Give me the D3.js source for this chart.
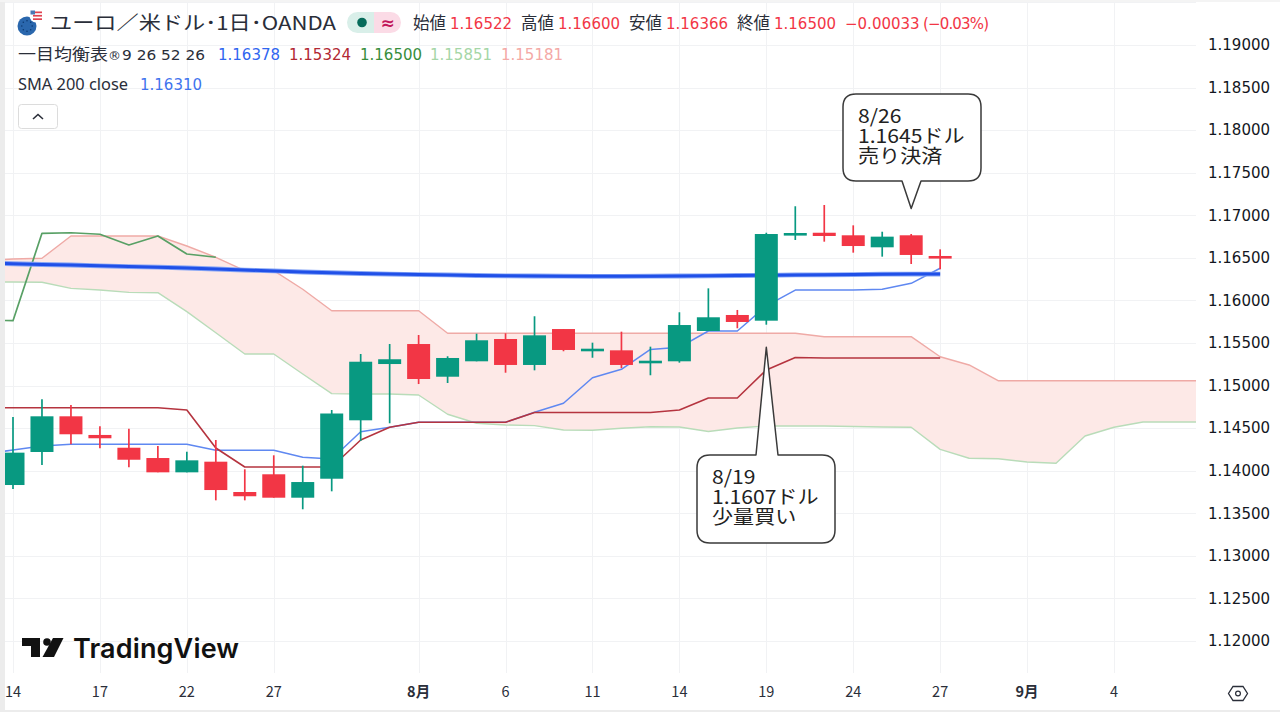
<!DOCTYPE html>
<html>
<head>
<meta charset="utf-8">
<script src="https://cdn.jsdelivr.net/npm/d3@7"></script>
<style>
    html, body { margin: 0; padding: 0; background: #fff; }
    svg { display: block; }
    text { font-family: "DejaVu Sans", "Noto Sans CJK JP", sans-serif; }
    .jp { font-family: "Noto Sans CJK JP", sans-serif; }
    .grid line { stroke: #f1f2f4; stroke-width: 1; }
</style>
</head>
<body>
<div id="chart"></div>
<script>
/*************************************** DATA *********************************************/

var opens = [1.13832, 1.1422, 1.14639, 1.1442, 1.1427, 1.14149, 1.13981, 1.14106, 1.1375, 1.13958, 1.13683,
    1.13906, 1.14592, 1.15253, 1.15488, 1.15104, 1.15285, 1.15547, 1.15242, 1.15664, 1.15418, 1.15414,
    1.15273, 1.15285, 1.15641, 1.15829, 1.15762, 1.16772, 1.16795, 1.16765, 1.16624, 1.16765, 1.16522];
var highs = [1.14631, 1.14839, 1.14772, 1.14522, 1.14494, 1.1429, 1.14223, 1.14361, 1.14017, 1.14181, 1.14059,
    1.14713, 1.15371, 1.15488, 1.15594, 1.15344, 1.15609, 1.15614, 1.15814, 1.15664, 1.15504, 1.15633,
    1.15457, 1.15861, 1.16142, 1.15888, 1.16795, 1.17106, 1.17121, 1.16882, 1.16807, 1.1678, 1.166];
var lows = [1.13785, 1.14067, 1.1431, 1.14263, 1.1404, 1.13981, 1.13981, 1.13652, 1.13652, 1.13683, 1.13547,
    1.13758, 1.1435, 1.14557, 1.15018, 1.1503, 1.15285, 1.15151, 1.15179, 1.15403, 1.15327, 1.15206,
    1.15121, 1.15269, 1.15641, 1.15673, 1.15715, 1.1671, 1.1669, 1.16561, 1.16514, 1.16428, 1.16366];
var closes = [1.14212, 1.14639, 1.14428, 1.14381, 1.14129, 1.13981, 1.14122, 1.13773, 1.137, 1.13683, 1.13867,
    1.14672, 1.1528, 1.15309, 1.15077, 1.15324, 1.15532, 1.15242, 1.1559, 1.15418, 1.15433, 1.15242,
    1.15292, 1.15711, 1.15802, 1.15747, 1.1678, 1.16792, 1.16757, 1.16639, 1.16749, 1.16534, 1.165];

// these start one bar before the first candle, the chart cuts them off at the left edge
var tenkan = [1.14196, 1.14243, 1.1429, 1.1431, 1.1431, 1.1431, 1.1431, 1.1431, 1.1424, 1.1424, 1.1424, 1.14158,
    1.14138, 1.14458, 1.1451, 1.14569, 1.14569, 1.14569, 1.14569, 1.14686, 1.14792, 1.15092, 1.15191,
    1.15424, 1.15449, 1.15641, 1.15641, 1.15935, 1.16122, 1.16122, 1.16122, 1.16131, 1.16201, 1.16378];
var kijun = [1.1474, 1.1474, 1.1474, 1.1474, 1.1474, 1.1474, 1.1474, 1.14713, 1.14267, 1.14044, 1.14044, 1.14044,
    1.14044, 1.14361, 1.1451, 1.14569, 1.14569, 1.14569, 1.14569, 1.14684, 1.14684, 1.14684, 1.14684,
    1.14684, 1.14713, 1.14854, 1.14854, 1.15183, 1.1533, 1.15324, 1.15324, 1.15324, 1.15324, 1.15324];
var chikou = [1.1577, 1.15762, 1.16788, 1.16795, 1.16777, 1.16651, 1.16757, 1.16545, 1.16507];
var spanUpper = [1.16463, 1.16487, 1.16495, 1.16757, 1.16757, 1.16757, 1.16757, 1.16639, 1.16507, 1.16349, 1.16349,
    1.16131, 1.15879, 1.15879, 1.15879, 1.15879, 1.15614, 1.15614, 1.15614, 1.15614, 1.15614, 1.15614,
    1.15614, 1.15614, 1.15614, 1.15614, 1.15614, 1.15614, 1.15614, 1.15574, 1.15574, 1.15574, 1.15574,
    1.15339, 1.15242, 1.15057, 1.15057, 1.15057, 1.15057, 1.15057, 1.15057, 1.15057, 1.15057];
var spanLower = [1.16216, 1.16216, 1.16213, 1.16142, 1.16122, 1.16095, 1.16091, 1.15868, 1.15621, 1.15371, 1.15371,
    1.15136, 1.14905, 1.14901, 1.14901, 1.14889, 1.14663, 1.14557, 1.14537, 1.14529, 1.14478, 1.14475,
    1.14498, 1.14517, 1.14513, 1.14461, 1.14502, 1.14525, 1.14525, 1.14525, 1.14519, 1.14513, 1.1451,
    1.14251, 1.14146, 1.14141, 1.14102, 1.14087, 1.14408, 1.1451, 1.14572, 1.14572, 1.14572];
var sma200 = [1.1644, 1.16431, 1.16422, 1.16416, 1.16407, 1.16398, 1.1639, 1.16381, 1.16369, 1.16357, 1.16346, 1.16334,
    1.16325, 1.16316, 1.1631, 1.16304, 1.16299, 1.16293, 1.16289, 1.16287, 1.16285, 1.16283, 1.16283,
    1.16285, 1.16287, 1.16289, 1.16293, 1.16295, 1.16299, 1.16301, 1.16304, 1.16308, 1.1631, 1.1631];

var yTicks = [1.195, 1.19, 1.185, 1.18, 1.175, 1.17, 1.165, 1.16, 1.155, 1.15, 1.145, 1.14, 1.135, 1.13, 1.125, 1.12];
var xTickBars = [0, 3, 6, 9, 14, 17, 20, 23, 26, 29, 32, 35, 38];
var xTickLabels = ["14", "17", "22", "27", "8月", "6", "11", "14", "19", "24", "27", "9月", "4"];

var titleText = "ユーロ／米ドル･1日･OANDA";
var ohlcLabels = ["始値", "高値", "安値", "終値"];
var ohlcValues = ["1.16522", "1.16600", "1.16366", "1.16500"];
var changeText = "−0.00033";
var changePctText = "(−0.03%)";
var ichimokuValues = ["1.16378", "1.15324", "1.16500", "1.15851", "1.15181"];
var sellNote = ["8/26", "1.1645ドル", "売り決済"];
var buyNote = ["8/19", "1.1607ドル", "少量買い"];

/*************************************** SCALES *********************************************/

var width = 1280,
    height = 720,
    plotLeft = 5,
    plotRight = 1196,
    plotBottom = 673;

var x = d3.scaleLinear().domain([0, 38]).range([13, 1114]);
var y = d3.scaleLinear().domain([1.12, 1.19]).range([641, 45]);

var candleWidth = 23;
var upColor = "#089981",
    downColor = "#f23645";

var svg = d3.select("#chart").append("svg")
    .attr("width", width)
    .attr("height", height);

svg.append("rect").attr("width", width).attr("height", height).attr("fill", "#fff");

// screenshot frame on the left and the bottom
svg.append("rect").attr("x", 0).attr("y", 0).attr("width", 5).attr("height", 711).attr("fill", "#ececec");
svg.append("rect").attr("x", 0).attr("y", 0).attr("width", width).attr("height", 2).attr("fill", "#f4f4f4");
svg.append("rect").attr("x", 0).attr("y", 710).attr("width", width).attr("height", 2).attr("fill", "#ececec");

svg.append("clipPath").attr("id", "plot-clip")
    .append("rect")
    .attr("x", plotLeft)
    .attr("y", 0)
    .attr("width", plotRight - plotLeft)
    .attr("height", plotBottom);

/*************************************** GRID + AXES *********************************************/

var grid = svg.append("g").attr("class", "grid");

grid.selectAll(".h")
    .data(yTicks)
    .enter().append("line")
    .attr("x1", plotLeft)
    .attr("x2", plotRight)
    .attr("y1", function(d) { return Math.round(y(d)) + 0.5; })
    .attr("y2", function(d) { return Math.round(y(d)) + 0.5; });

grid.selectAll(".v")
    .data(xTickBars)
    .enter().append("line")
    .attr("y1", 2)
    .attr("y2", plotBottom)
    .attr("x1", function(d) { return Math.round(x(d)) + 0.5; })
    .attr("x2", function(d) { return Math.round(x(d)) + 0.5; });

var yAxis = d3.axisRight(y)
    .tickValues(yTicks.slice(1))
    .tickSize(0)
    .tickPadding(0)
    .tickFormat(d3.format(".5f"));

svg.append("g")
    .attr("transform", "translate(1208,0)")
    .call(yAxis)
    .call(function(g) { g.select(".domain").remove(); })
    .selectAll("text")
    .style("font-family", "'DejaVu Sans', sans-serif")
    .style("font-size", "15px")
    .attr("fill", "#131722");

svg.append("g").selectAll("text")
    .data(xTickBars)
    .enter().append("text")
    .attr("x", function(d) { return x(d); })
    .attr("y", 697)
    .attr("text-anchor", "middle")
    .attr("class", "jp")
    .attr("font-size", 14.5)
    .attr("font-weight", function(d, i) { return xTickLabels[i].indexOf("月") > 0 ? 700 : 400; })
    .attr("fill", "#2a2e39")
    .text(function(d, i) { return xTickLabels[i]; });

// settings hexagon in the corner
svg.append("path")
    .attr("d", "M1233 686.5h10l4.5 7-4.5 7h-10l-4.5-7z")
    .attr("fill", "none")
    .attr("stroke", "#2a2e39")
    .attr("stroke-width", 1.3);
svg.append("circle").attr("cx", 1238).attr("cy", 693.5).attr("r", 2.4)
    .attr("fill", "none").attr("stroke", "#2a2e39").attr("stroke-width", 1.2);

/*************************************** ICHIMOKU + SMA *********************************************/

var plot = svg.append("g").attr("clip-path", "url(#plot-clip)");

// line arrays have one extra bar in front, so index i sits on bar i - 1
var line = d3.line()
    .x(function(d, i) { return x(i - 1); })
    .y(function(d) { return y(d); });

var cloud = d3.area()
    .x(function(d, i) { return x(i - 1); })
    .y0(function(d, i) { return y(spanLower[i]); })
    .y1(function(d) { return y(d); });

plot.append("path").datum(spanUpper).attr("d", cloud).attr("fill", "#fde9e7");

function drawLine(data, color, lineWidth) {
    plot.append("path")
        .datum(data)
        .attr("d", line)
        .attr("fill", "none")
        .attr("stroke", color)
        .attr("stroke-width", lineWidth)
        .attr("stroke-linejoin", "round");
}

drawLine(spanUpper, "#efaaa6", 1.4);
drawLine(spanLower, "#b9dcb9", 1.4);
drawLine(tenkan, "#5f88f1", 1.5);
drawLine(kijun, "#b5343f", 1.6);
drawLine(chikou, "#58a065", 1.7);
drawLine(sma200, "#86a5f5", 4.8); // soft edge from the blurry screenshot
drawLine(sma200, "#2050e8", 3);

/*************************************** CANDLES *********************************************/

var candles = plot.append("g").selectAll("g")
    .data(opens)
    .enter().append("g")
    .attr("fill", function(d, i) { return closes[i] >= d ? upColor : downColor; })
    .attr("stroke", function(d, i) { return closes[i] >= d ? upColor : downColor; });

candles.append("line")
    .attr("x1", function(d, i) { return x(i); })
    .attr("x2", function(d, i) { return x(i); })
    .attr("y1", function(d, i) { return y(highs[i]); })
    .attr("y2", function(d, i) { return y(lows[i]); })
    .attr("stroke-width", 1.7);

candles.append("rect")
    .attr("stroke", "none")
    .attr("x", function(d, i) { return x(i) - candleWidth / 2; })
    .attr("width", candleWidth)
    .attr("y", function(d, i) { return y(Math.max(d, closes[i])); })
    .attr("height", function(d, i) { return Math.max(2.6, Math.abs(y(d) - y(closes[i]))); });

/*************************************** CALLOUTS *********************************************/

function drawNote(left, top, w, h, tipX, tipY, baseX0, baseX1, lines) {
    var r = 13,
        right = left + w,
        bottom = top + h,
        path = d3.path();
    path.moveTo(left + r, top);
    if (tipY < top) {
        path.lineTo(baseX0, top);
        path.lineTo(tipX, tipY);
        path.lineTo(baseX1, top);
    }
    path.lineTo(right - r, top);
    path.quadraticCurveTo(right, top, right, top + r);
    path.lineTo(right, bottom - r);
    path.quadraticCurveTo(right, bottom, right - r, bottom);
    if (tipY > bottom) {
        path.lineTo(baseX1, bottom);
        path.lineTo(tipX, tipY);
        path.lineTo(baseX0, bottom);
    }
    path.lineTo(left + r, bottom);
    path.quadraticCurveTo(left, bottom, left, bottom - r);
    path.lineTo(left, top + r);
    path.quadraticCurveTo(left, top, left + r, top);
    path.closePath();

    svg.append("path")
        .attr("d", path.toString())
        .attr("fill", "#fff")
        .attr("stroke", "#3a3a3a")
        .attr("stroke-width", 1.5)
        .attr("stroke-linejoin", "round");

    // the notes are a little wider than the font, same as in the screenshot
    svg.append("g").selectAll("text")
        .data(lines)
        .enter().append("text")
        .attr("class", "jp")
        .attr("transform", function(d, i) {
            return "translate(" + (left + 15) + "," + (top + 29 + i * 20) + ") scale(1.11,1)";
        })
        .attr("font-size", 19)
        .attr("fill", "#222")
        .text(function(d) { return d; });
}

drawNote(843, 94, 138, 87, x(31), y(1.1708), 902, 921, sellNote);
drawNote(697, 455, 138, 88, x(26), y(1.1545), 756, 778, buyNote);

/*************************************** HEADER *********************************************/

var header = svg.append("g");

// pair icon, euro disc with the small us disc on top
header.append("circle").attr("cx", 27).attr("cy", 26).attr("r", 9.5).attr("fill", "#2a67ad");
header.selectAll(".star")
    .data(d3.range(8))
    .enter().append("circle")
    .attr("cx", function(d) { return 27 + 5.2 * Math.cos(d * Math.PI / 4); })
    .attr("cy", function(d) { return 26 + 5.2 * Math.sin(d * Math.PI / 4); })
    .attr("r", 0.8)
    .attr("fill", "#0d3a73");
header.append("circle").attr("cx", 36).attr("cy", 16).attr("r", 6.5).attr("fill", "#fff");
header.selectAll(".stripe")
    .data([0, 1, 2])
    .enter().append("rect")
    .attr("x", 33)
    .attr("y", function(d) { return 11.5 + d * 3.4; })
    .attr("width", 9)
    .attr("height", 1.7)
    .attr("fill", "#e0424f");
header.append("rect").attr("x", 30.5).attr("y", 10.5).attr("width", 4.5).attr("height", 4).attr("fill", "#4a79b5");

header.append("text")
    .attr("class", "jp")
    .attr("x", 50)
    .attr("y", 30)
    .attr("font-size", 19)
    .attr("fill", "#2a2e39")
    .attr("textLength", 286)
    .attr("lengthAdjust", "spacingAndGlyphs")
    .text(titleText);

// market status pill
var pillClip = header.append("clipPath").attr("id", "pill-clip");
pillClip.append("rect").attr("x", 347).attr("y", 12).attr("width", 54).attr("height", 21).attr("rx", 10.5);
var pill = header.append("g").attr("clip-path", "url(#pill-clip)");
pill.append("rect").attr("x", 347).attr("y", 12).attr("width", 27).attr("height", 21).attr("fill", "#d9efe9");
pill.append("rect").attr("x", 374).attr("y", 12).attr("width", 27).attr("height", 21).attr("fill", "#fbdbe6");
header.append("circle").attr("cx", 362).attr("cy", 22.5).attr("r", 4.8).attr("fill", "#066b5a");
header.append("text")
    .attr("x", 387.5)
    .attr("y", 28.5)
    .attr("text-anchor", "middle")
    .attr("font-size", 17)
    .attr("font-weight", 700)
    .attr("fill", "#c2185b")
    .text("≈");

var ohlcLabelX = [413, 521, 629, 737],
    ohlcValueX = [450, 558, 666, 774];

header.selectAll(".ohlc-label")
    .data(ohlcLabels)
    .enter().append("text")
    .attr("class", "jp")
    .attr("x", function(d, i) { return ohlcLabelX[i]; })
    .attr("y", 29)
    .attr("font-size", 16.5)
    .attr("fill", "#2a2e39")
    .text(function(d) { return d; });

header.selectAll(".ohlc-value")
    .data(ohlcValues)
    .enter().append("text")
    .attr("x", function(d, i) { return ohlcValueX[i]; })
    .attr("y", 28.5)
    .attr("font-size", 15)
    .attr("fill", downColor)
    .text(function(d) { return d; });

header.append("text").attr("x", 845).attr("y", 28.5).attr("font-size", 15)
    .attr("fill", downColor).text(changeText);
header.append("text").attr("x", 923).attr("y", 28.5).attr("font-size", 15)
    .attr("fill", downColor).attr("textLength", 66).text(changePctText);

header.append("text")
    .attr("class", "jp")
    .attr("x", 18)
    .attr("y", 60)
    .attr("font-size", 16)
    .attr("fill", "#2a2e39")
    .attr("textLength", 90)
    .attr("lengthAdjust", "spacingAndGlyphs")
    .text("一目均衡表");
header.append("text")
    .attr("x", 108)
    .attr("y", 60)
    .attr("font-size", 13)
    .attr("fill", "#2a2e39")
    .text("®");
header.append("text")
    .attr("x", 122)
    .attr("y", 60)
    .attr("font-size", 14.5)
    .attr("fill", "#2a2e39")
    .attr("textLength", 83)
    .attr("lengthAdjust", "spacingAndGlyphs")
    .text("9 26 52 26");

var ichimokuColors = ["#2f66f0", "#b22833", "#388e3c", "#a5d6a7", "#f4a9a6"],
    ichimokuX = [218, 289, 360, 430, 501];

header.selectAll(".ichimoku-value")
    .data(ichimokuValues)
    .enter().append("text")
    .attr("x", function(d, i) { return ichimokuX[i]; })
    .attr("y", 60)
    .attr("font-size", 15)
    .attr("fill", function(d, i) { return ichimokuColors[i]; })
    .text(function(d) { return d; });

header.append("text")
    .attr("x", 18)
    .attr("y", 90)
    .style("font-family", "'Noto Sans', sans-serif")
    .attr("font-size", 15.5)
    .attr("fill", "#2a2e39")
    .attr("textLength", 110)
    .attr("lengthAdjust", "spacingAndGlyphs")
    .text("SMA 200 close");
header.append("text")
    .attr("x", 140)
    .attr("y", 90)
    .attr("font-size", 15)
    .attr("fill", "#3f74ee")
    .text("1.16310");

// collapse button
header.append("rect")
    .attr("x", 18.5).attr("y", 104.5).attr("width", 39).attr("height", 24).attr("rx", 3)
    .attr("fill", "#fff").attr("stroke", "#dcdcdc");
header.append("path")
    .attr("d", "M33 119l5-4.5 5 4.5")
    .attr("fill", "none")
    .attr("stroke", "#2a2e39")
    .attr("stroke-width", 1.6);

/*************************************** LOGO *********************************************/

var logo = svg.append("g").attr("fill", "#111");
logo.append("path").attr("d", "M22 638h18v19h-9v-11h-9z");
logo.append("circle").attr("cx", 47).attr("cy", 642).attr("r", 3.8);
logo.append("path").attr("d", "M53 638h10.5l-9.5 19h-11.5z");
logo.append("text")
    .attr("x", 73)
    .attr("y", 657.5)
    .attr("font-size", 27)
    .attr("font-weight", 600)
    .style("font-family", "Inter, sans-serif")
    .attr("textLength", 166)
    .text("TradingView");
</script>
</body>
</html>
